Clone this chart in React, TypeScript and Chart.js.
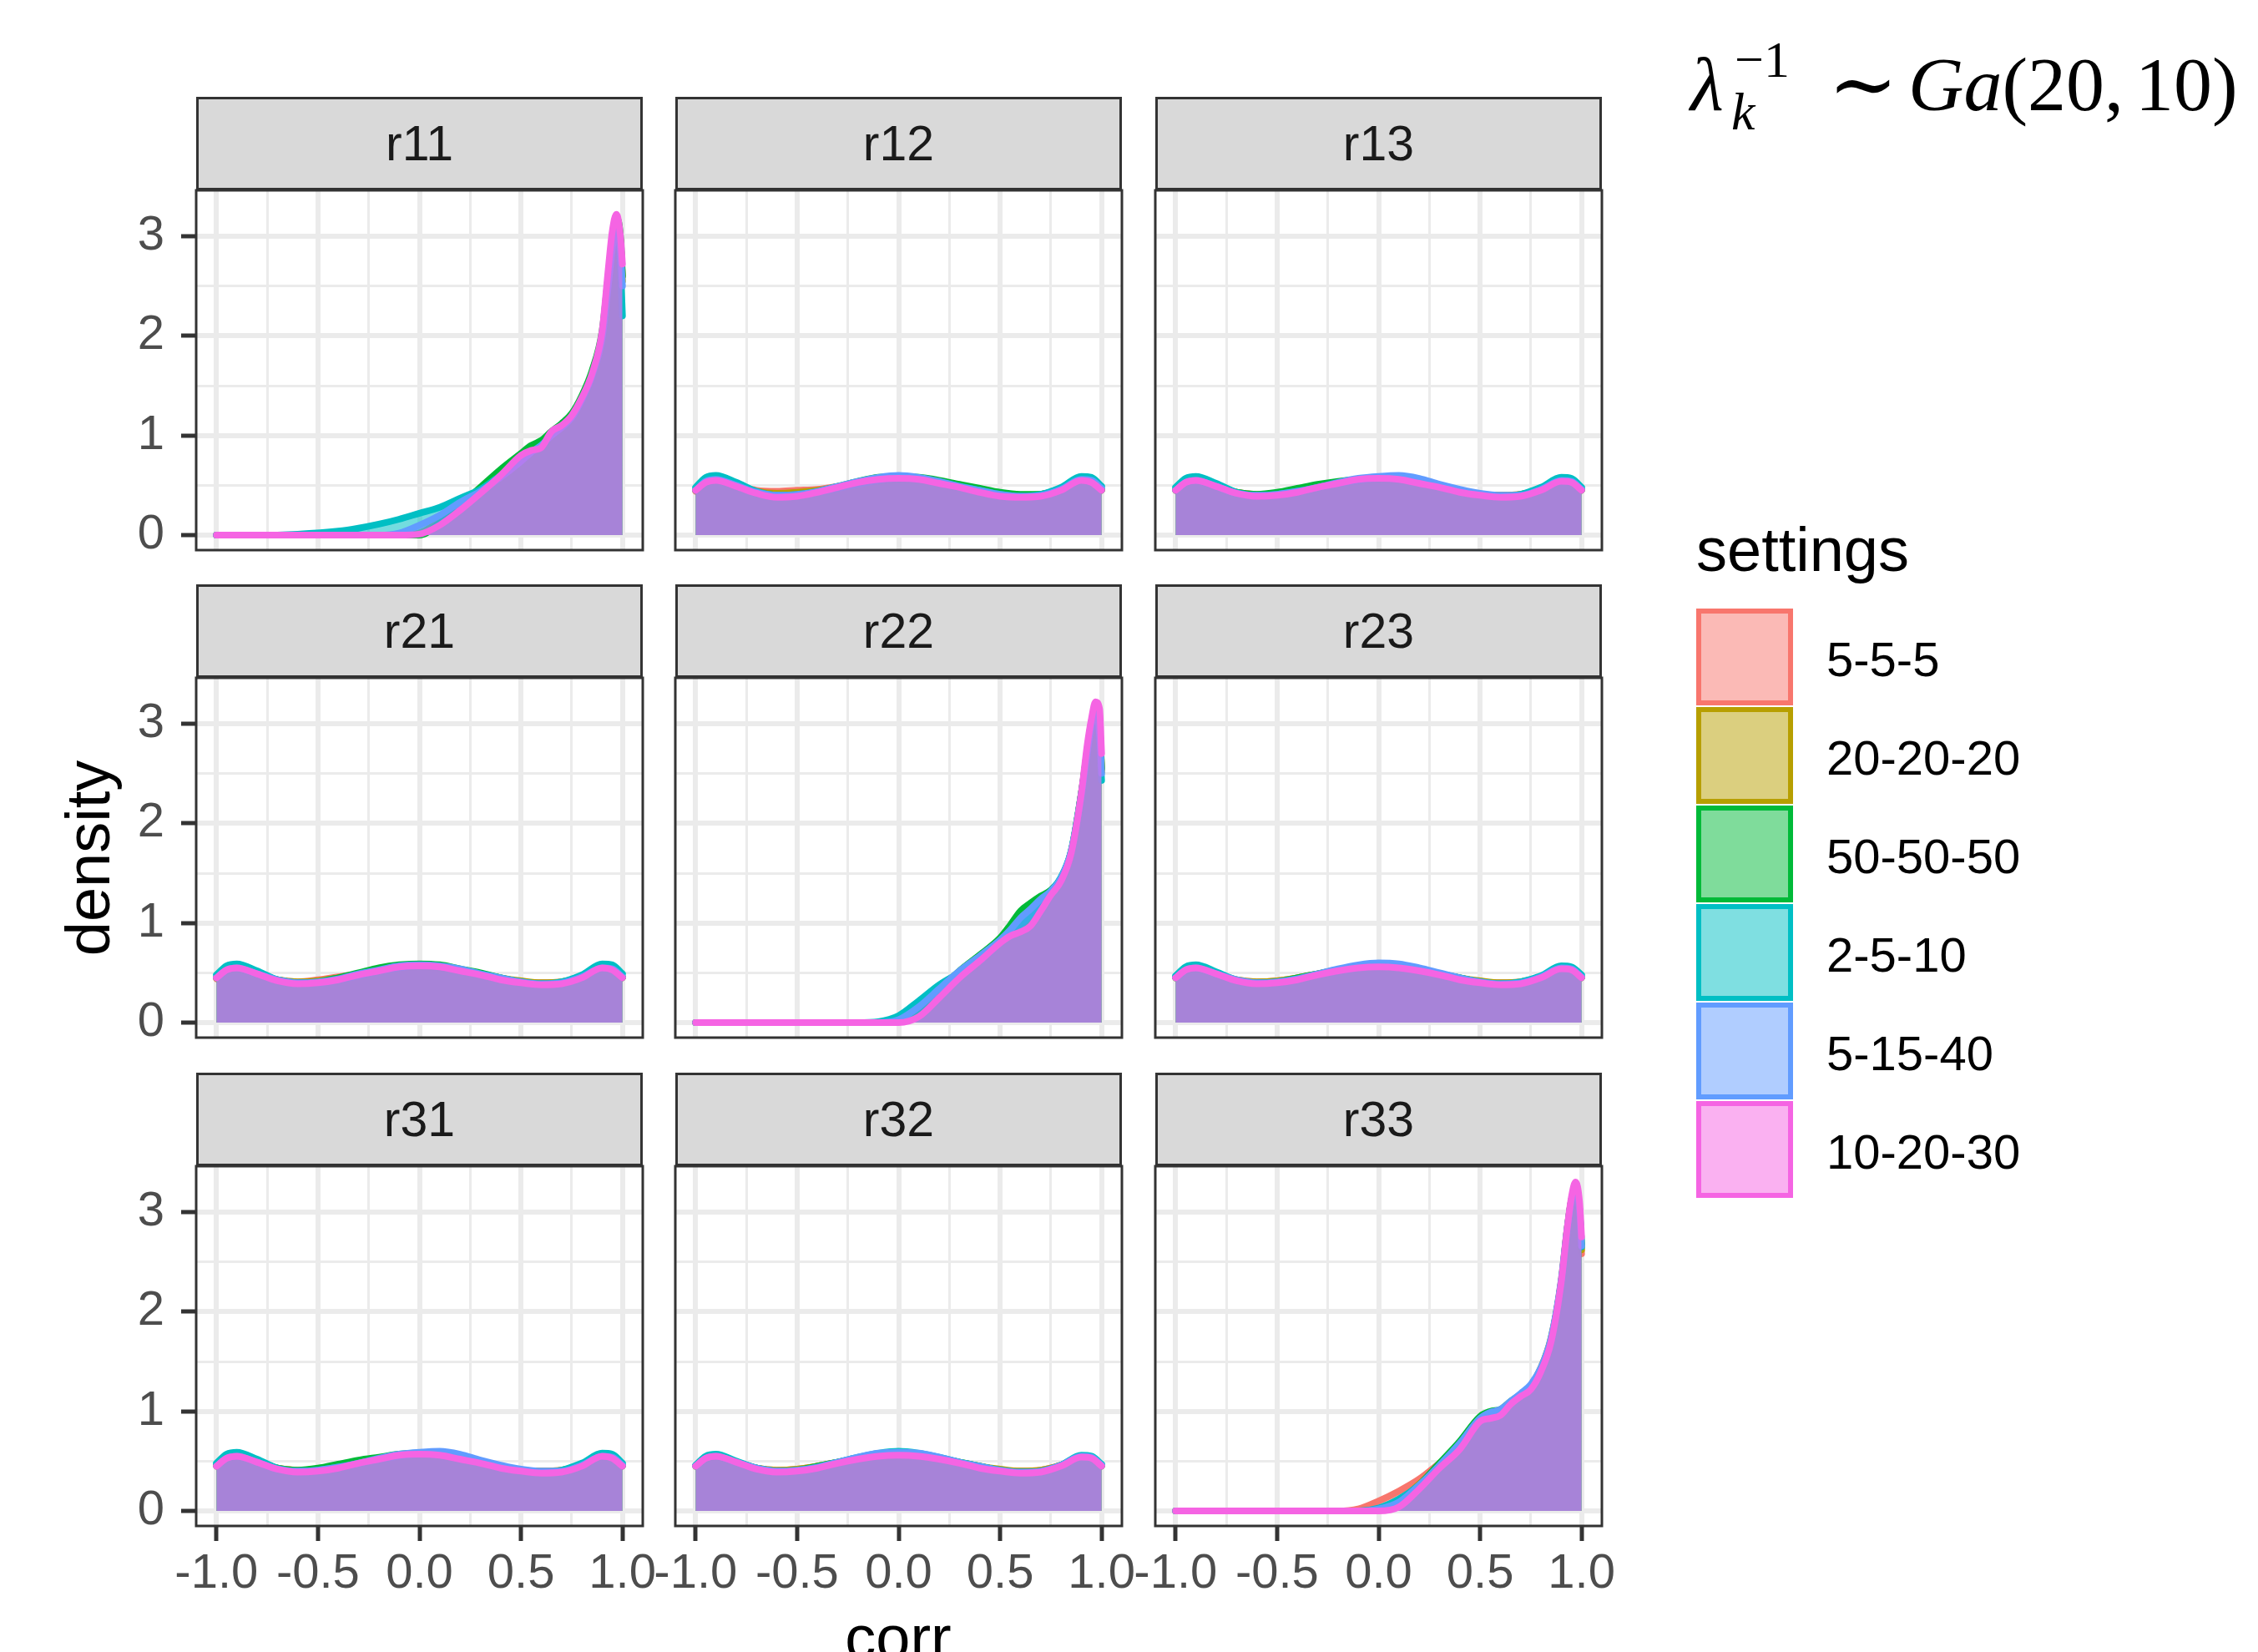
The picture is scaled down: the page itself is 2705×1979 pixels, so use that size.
import React, { useEffect, useRef } from "react";
import { Chart, registerables } from "chart.js";

Chart.register(...registerables);

// ---------- data ----------
const SETTINGS = ["5-5-5", "20-20-20", "50-50-50", "2-5-10", "5-15-40", "10-20-30"];
const LINE_COLORS = ["#F8766D", "#B79F00", "#00BA38", "#00BFC4", "#619CFF", "#F564E3"];
const FILL_RGB = ["248,118,109", "183,159,0", "0,186,56", "0,191,196", "97,156,255", "245,100,227"];
const PANEL_ALPHA = 0.55;
const KEY_ALPHA = 0.5;

const X_GRID = [-1, -0.75, -0.5, -0.25, 0, 0.25, 0.5, 0.75, 1];
const X_MAJOR = [-1, -0.5, 0, 0.5, 1];
const X_LABELS = ["-1.0", "-0.5", "0.0", "0.5", "1.0"];
const Y_GRID = [0, 0.5, 1, 1.5, 2, 2.5, 3];
const Y_MAJOR = [0, 1, 2, 3];
const Y_LABELS = ["0", "1", "2", "3"];
const X_RANGE = [-1.1, 1.1];
const Y_RANGE = [-0.15, 3.46];

// x positions of the density estimates
const X_DIAG = [-1, -0.8, -0.6, -0.4, -0.3, -0.2, -0.1, 0, 0.1, 0.2, 0.3, 0.4, 0.5, 0.55, 0.6, 0.65, 0.7, 0.75, 0.8, 0.85, 0.9, 0.93, 0.95, 0.97, 0.99, 1.0];
const X_FLAT = [-1, -0.95, -0.9, -0.8, -0.7, -0.6, -0.5, -0.4, -0.3, -0.2, -0.1, 0, 0.1, 0.2, 0.3, 0.4, 0.5, 0.6, 0.7, 0.8, 0.9, 0.95, 1];

// series order: 5-5-5, 20-20-20, 50-50-50, 2-5-10, 5-15-40, 10-20-30
const r11 = [
  [0, 0, 0, 0, 0, 0, 0, 0.02, 0.14, 0.28, 0.45, 0.62, 0.78, 0.86, 0.92, 1.0, 1.1, 1.2, 1.38, 1.62, 2.0, 2.55, 2.92, 3.15, 2.95, 2.6],
  [0, 0, 0, 0, 0, 0, 0, 0.02, 0.13, 0.27, 0.44, 0.62, 0.8, 0.88, 0.93, 1.01, 1.1, 1.21, 1.38, 1.62, 2.0, 2.55, 2.93, 3.16, 2.97, 2.55],
  [0, 0, 0, 0, 0, 0, 0, 0, 0.12, 0.3, 0.48, 0.66, 0.82, 0.9, 0.95, 1.04, 1.12, 1.22, 1.4, 1.65, 2.05, 2.6, 2.95, 3.18, 3.0, 2.6],
  [0, 0, 0.01, 0.04, 0.07, 0.11, 0.16, 0.22, 0.28, 0.37, 0.46, 0.6, 0.74, 0.83, 0.9, 1.0, 1.08, 1.18, 1.36, 1.6, 2.0, 2.5, 2.85, 3.05, 2.7, 2.2],
  [0, 0, 0, 0, 0, 0, 0.02, 0.1, 0.2, 0.33, 0.44, 0.58, 0.74, 0.83, 0.9, 1.0, 1.08, 1.18, 1.36, 1.6, 1.98, 2.5, 2.88, 3.1, 2.85, 2.5],
  [0, 0, 0, 0, 0, 0, 0, 0.01, 0.1, 0.25, 0.42, 0.6, 0.8, 0.85, 0.88, 1.04, 1.1, 1.2, 1.38, 1.62, 2.05, 2.67, 3.05, 3.22, 3.0, 2.72],
];
const r22 = [
  [0, 0, 0, 0, 0, 0, 0, 0.03, 0.15, 0.32, 0.5, 0.66, 0.83, 0.92, 1.02, 1.1, 1.2, 1.3, 1.44, 1.7, 2.3, 2.72, 3.0, 3.12, 2.95, 2.55],
  [0, 0, 0, 0, 0, 0, 0, 0.02, 0.14, 0.31, 0.5, 0.66, 0.84, 0.94, 1.04, 1.12, 1.22, 1.31, 1.45, 1.71, 2.29, 2.73, 3.01, 3.14, 2.96, 2.52],
  [0, 0, 0, 0, 0, 0, 0, 0.02, 0.14, 0.33, 0.52, 0.68, 0.85, 0.98, 1.12, 1.2, 1.27, 1.33, 1.45, 1.72, 2.3, 2.75, 3.02, 3.15, 3.0, 2.55],
  [0, 0, 0, 0, 0, 0, 0.01, 0.07, 0.22, 0.38, 0.5, 0.62, 0.8, 0.9, 0.98, 1.08, 1.2, 1.32, 1.46, 1.72, 2.3, 2.7, 2.95, 3.05, 2.8, 2.43],
  [0, 0, 0, 0, 0, 0, 0, 0.03, 0.16, 0.34, 0.52, 0.67, 0.83, 0.93, 1.05, 1.14, 1.24, 1.32, 1.45, 1.72, 2.28, 2.72, 3.0, 3.1, 2.9, 2.5],
  [0, 0, 0, 0, 0, 0, 0, 0, 0.06, 0.25, 0.45, 0.62, 0.8, 0.87, 0.91, 0.97, 1.12, 1.28, 1.42, 1.7, 2.3, 2.8, 3.05, 3.22, 3.15, 2.7],
];
const r33 = [
  [0, 0, 0, 0, 0, 0, 0.02, 0.1, 0.2, 0.32, 0.48, 0.64, 0.9, 0.95, 1.0, 1.08, 1.17, 1.25, 1.42, 1.72, 2.32, 2.85, 3.12, 3.22, 2.95, 2.58],
  [0, 0, 0, 0, 0, 0, 0, 0.02, 0.1, 0.27, 0.46, 0.66, 0.92, 0.97, 1.0, 1.08, 1.17, 1.26, 1.44, 1.74, 2.3, 2.84, 3.12, 3.24, 3.0, 2.62],
  [0, 0, 0, 0, 0, 0, 0, 0.01, 0.08, 0.26, 0.48, 0.7, 0.95, 1.0, 1.02, 1.1, 1.17, 1.25, 1.42, 1.72, 2.3, 2.84, 3.12, 3.25, 3.02, 2.68],
  [0, 0, 0, 0, 0, 0, 0, 0.03, 0.12, 0.26, 0.45, 0.64, 0.9, 0.96, 1.0, 1.08, 1.17, 1.25, 1.42, 1.72, 2.3, 2.82, 3.1, 3.22, 3.0, 2.65],
  [0, 0, 0, 0, 0, 0, 0, 0.02, 0.09, 0.26, 0.46, 0.68, 0.93, 0.99, 1.02, 1.1, 1.18, 1.27, 1.44, 1.74, 2.32, 2.85, 3.12, 3.24, 3.02, 2.66],
  [0, 0, 0, 0, 0, 0, 0, 0, 0.04, 0.22, 0.43, 0.62, 0.9, 0.93, 0.96, 1.07, 1.15, 1.22, 1.4, 1.7, 2.3, 2.85, 3.15, 3.3, 3.1, 2.75],
];
const r12 = [
  [0.44, 0.52, 0.54, 0.5, 0.45, 0.44, 0.45, 0.46, 0.49, 0.52, 0.55, 0.56, 0.55, 0.52, 0.48, 0.44, 0.41, 0.4, 0.41, 0.46, 0.54, 0.53, 0.45],
  [0.45, 0.53, 0.55, 0.5, 0.44, 0.42, 0.43, 0.45, 0.48, 0.52, 0.55, 0.57, 0.56, 0.53, 0.49, 0.45, 0.42, 0.4, 0.41, 0.46, 0.55, 0.53, 0.46],
  [0.45, 0.53, 0.55, 0.49, 0.43, 0.4, 0.41, 0.44, 0.49, 0.54, 0.58, 0.59, 0.58, 0.55, 0.51, 0.47, 0.43, 0.41, 0.41, 0.46, 0.55, 0.53, 0.45],
  [0.48, 0.58, 0.6, 0.53, 0.44, 0.4, 0.4, 0.43, 0.47, 0.51, 0.55, 0.57, 0.56, 0.53, 0.49, 0.45, 0.41, 0.39, 0.41, 0.48, 0.59, 0.58, 0.49],
  [0.45, 0.54, 0.56, 0.5, 0.43, 0.4, 0.41, 0.44, 0.49, 0.54, 0.58, 0.6, 0.58, 0.54, 0.49, 0.45, 0.41, 0.39, 0.4, 0.46, 0.56, 0.55, 0.47],
  [0.45, 0.53, 0.55, 0.49, 0.42, 0.38, 0.39, 0.43, 0.48, 0.53, 0.56, 0.57, 0.56, 0.52, 0.48, 0.43, 0.39, 0.38, 0.39, 0.45, 0.55, 0.53, 0.45],
];
const r13 = [
  [0.45, 0.52, 0.54, 0.49, 0.43, 0.41, 0.42, 0.45, 0.49, 0.52, 0.55, 0.56, 0.55, 0.52, 0.48, 0.44, 0.41, 0.4, 0.41, 0.46, 0.54, 0.53, 0.45],
  [0.45, 0.53, 0.55, 0.5, 0.43, 0.41, 0.42, 0.45, 0.49, 0.53, 0.56, 0.57, 0.56, 0.53, 0.49, 0.45, 0.41, 0.4, 0.41, 0.46, 0.55, 0.53, 0.46],
  [0.45, 0.53, 0.55, 0.49, 0.43, 0.41, 0.43, 0.47, 0.51, 0.54, 0.56, 0.57, 0.56, 0.53, 0.49, 0.45, 0.41, 0.39, 0.4, 0.46, 0.55, 0.53, 0.45],
  [0.48, 0.57, 0.59, 0.52, 0.43, 0.4, 0.41, 0.44, 0.48, 0.52, 0.55, 0.57, 0.56, 0.53, 0.49, 0.45, 0.41, 0.39, 0.41, 0.48, 0.58, 0.57, 0.48],
  [0.45, 0.53, 0.55, 0.49, 0.42, 0.4, 0.41, 0.44, 0.48, 0.53, 0.57, 0.59, 0.6, 0.57, 0.51, 0.46, 0.42, 0.4, 0.4, 0.46, 0.55, 0.54, 0.46],
  [0.45, 0.53, 0.55, 0.49, 0.42, 0.39, 0.4, 0.43, 0.48, 0.52, 0.56, 0.57, 0.56, 0.52, 0.48, 0.43, 0.4, 0.38, 0.39, 0.45, 0.54, 0.53, 0.45],
];
const r21 = [
  [0.44, 0.52, 0.54, 0.49, 0.43, 0.41, 0.43, 0.46, 0.49, 0.52, 0.55, 0.56, 0.55, 0.52, 0.48, 0.44, 0.41, 0.4, 0.41, 0.46, 0.54, 0.53, 0.45],
  [0.45, 0.52, 0.54, 0.49, 0.43, 0.41, 0.42, 0.45, 0.49, 0.53, 0.56, 0.57, 0.56, 0.53, 0.49, 0.45, 0.42, 0.4, 0.41, 0.46, 0.55, 0.53, 0.46],
  [0.45, 0.53, 0.55, 0.49, 0.43, 0.4, 0.41, 0.45, 0.5, 0.55, 0.58, 0.59, 0.58, 0.54, 0.5, 0.45, 0.41, 0.39, 0.4, 0.46, 0.55, 0.53, 0.45],
  [0.48, 0.57, 0.59, 0.52, 0.43, 0.4, 0.4, 0.43, 0.47, 0.52, 0.55, 0.57, 0.56, 0.53, 0.49, 0.45, 0.41, 0.39, 0.41, 0.48, 0.59, 0.58, 0.49],
  [0.45, 0.53, 0.55, 0.49, 0.43, 0.4, 0.41, 0.44, 0.49, 0.53, 0.57, 0.58, 0.57, 0.54, 0.49, 0.45, 0.41, 0.39, 0.4, 0.46, 0.55, 0.54, 0.46],
  [0.45, 0.53, 0.55, 0.49, 0.42, 0.39, 0.4, 0.43, 0.48, 0.52, 0.56, 0.57, 0.56, 0.52, 0.48, 0.43, 0.4, 0.38, 0.39, 0.45, 0.55, 0.53, 0.45],
];
const r23 = [
  [0.45, 0.53, 0.55, 0.49, 0.43, 0.41, 0.42, 0.45, 0.49, 0.52, 0.55, 0.56, 0.55, 0.52, 0.48, 0.44, 0.41, 0.4, 0.41, 0.46, 0.54, 0.53, 0.45],
  [0.45, 0.52, 0.54, 0.49, 0.43, 0.41, 0.42, 0.45, 0.49, 0.53, 0.56, 0.57, 0.56, 0.53, 0.49, 0.45, 0.42, 0.4, 0.41, 0.46, 0.55, 0.53, 0.46],
  [0.45, 0.53, 0.55, 0.49, 0.42, 0.4, 0.41, 0.45, 0.49, 0.53, 0.56, 0.57, 0.56, 0.53, 0.49, 0.45, 0.41, 0.39, 0.4, 0.46, 0.55, 0.53, 0.45],
  [0.47, 0.56, 0.58, 0.51, 0.43, 0.4, 0.41, 0.44, 0.48, 0.52, 0.55, 0.57, 0.56, 0.53, 0.49, 0.45, 0.41, 0.39, 0.41, 0.47, 0.57, 0.56, 0.48],
  [0.45, 0.53, 0.55, 0.49, 0.43, 0.4, 0.41, 0.44, 0.49, 0.54, 0.58, 0.6, 0.59, 0.55, 0.5, 0.45, 0.41, 0.39, 0.4, 0.46, 0.55, 0.54, 0.46],
  [0.45, 0.53, 0.55, 0.49, 0.42, 0.39, 0.4, 0.43, 0.48, 0.52, 0.55, 0.56, 0.55, 0.52, 0.48, 0.43, 0.4, 0.38, 0.39, 0.45, 0.54, 0.53, 0.45],
];
const r31 = [
  [0.45, 0.52, 0.54, 0.49, 0.43, 0.41, 0.42, 0.45, 0.49, 0.52, 0.55, 0.56, 0.55, 0.52, 0.48, 0.44, 0.41, 0.4, 0.41, 0.46, 0.54, 0.53, 0.45],
  [0.45, 0.53, 0.55, 0.5, 0.43, 0.41, 0.42, 0.45, 0.49, 0.53, 0.56, 0.57, 0.56, 0.53, 0.49, 0.45, 0.41, 0.4, 0.41, 0.46, 0.55, 0.53, 0.46],
  [0.46, 0.54, 0.56, 0.5, 0.43, 0.41, 0.43, 0.47, 0.51, 0.54, 0.57, 0.58, 0.57, 0.53, 0.49, 0.45, 0.41, 0.39, 0.4, 0.46, 0.55, 0.53, 0.45],
  [0.48, 0.57, 0.59, 0.52, 0.43, 0.4, 0.41, 0.44, 0.48, 0.52, 0.55, 0.57, 0.56, 0.53, 0.49, 0.45, 0.41, 0.39, 0.41, 0.48, 0.58, 0.57, 0.48],
  [0.45, 0.53, 0.55, 0.49, 0.42, 0.4, 0.41, 0.44, 0.48, 0.53, 0.57, 0.59, 0.6, 0.57, 0.51, 0.46, 0.42, 0.4, 0.4, 0.46, 0.55, 0.54, 0.46],
  [0.45, 0.53, 0.55, 0.49, 0.42, 0.39, 0.4, 0.43, 0.48, 0.52, 0.56, 0.57, 0.56, 0.52, 0.48, 0.43, 0.4, 0.38, 0.39, 0.45, 0.55, 0.53, 0.45],
];
const r32 = [
  [0.45, 0.53, 0.55, 0.49, 0.43, 0.41, 0.42, 0.45, 0.49, 0.52, 0.55, 0.56, 0.55, 0.52, 0.48, 0.44, 0.41, 0.4, 0.41, 0.46, 0.54, 0.53, 0.45],
  [0.45, 0.52, 0.54, 0.49, 0.43, 0.41, 0.42, 0.45, 0.49, 0.53, 0.56, 0.57, 0.56, 0.53, 0.49, 0.45, 0.42, 0.4, 0.41, 0.46, 0.55, 0.53, 0.46],
  [0.45, 0.53, 0.55, 0.49, 0.43, 0.4, 0.41, 0.45, 0.49, 0.53, 0.56, 0.57, 0.56, 0.53, 0.49, 0.45, 0.41, 0.39, 0.4, 0.46, 0.55, 0.53, 0.45],
  [0.46, 0.55, 0.57, 0.5, 0.43, 0.4, 0.41, 0.44, 0.49, 0.54, 0.58, 0.6, 0.58, 0.54, 0.49, 0.45, 0.41, 0.39, 0.4, 0.46, 0.56, 0.55, 0.47],
  [0.45, 0.53, 0.55, 0.49, 0.43, 0.4, 0.41, 0.44, 0.49, 0.54, 0.58, 0.59, 0.58, 0.54, 0.49, 0.45, 0.41, 0.39, 0.4, 0.46, 0.55, 0.54, 0.46],
  [0.45, 0.53, 0.55, 0.49, 0.42, 0.39, 0.4, 0.43, 0.48, 0.52, 0.55, 0.56, 0.55, 0.52, 0.48, 0.43, 0.4, 0.38, 0.39, 0.45, 0.54, 0.53, 0.45],
];

const PANELS = [
  { name: "r11", xs: X_DIAG, series: r11 },
  { name: "r12", xs: X_FLAT, series: r12 },
  { name: "r13", xs: X_FLAT, series: r13 },
  { name: "r21", xs: X_FLAT, series: r21 },
  { name: "r22", xs: X_DIAG, series: r22 },
  { name: "r23", xs: X_FLAT, series: r23 },
  { name: "r31", xs: X_FLAT, series: r31 },
  { name: "r32", xs: X_FLAT, series: r32 },
  { name: "r33", xs: X_DIAG, series: r33 },
];

// ---------- layout ----------
const W = 2705;
const H = 1979;
const COL_LEFT = [235, 809, 1384];
const ROW_TOP = [228, 812, 1397];
const PW = 535;
const PH = 431;
const STRIP_H = 112;
const YW = 130;
const XH = 110;
const TP = 5;
const RP = 60;

const SANS = '"Liberation Sans", Arial, Helvetica, sans-serif';
const SERIF = '"Liberation Serif", "Times New Roman", "DejaVu Serif", serif';
const TICK_FONT = { family: SANS, size: 58 };

const rgba = (i: number, a: number) => `rgba(${FILL_RGB[i]},${a})`;

const panelBorder = {
  id: "panelBorder",
  afterDraw(chart: any) {
    const { ctx, chartArea: a } = chart;
    ctx.save();
    ctx.strokeStyle = "#333333";
    ctx.lineWidth = 3;
    ctx.strokeRect(a.left, a.top, a.right - a.left, a.bottom - a.top);
    ctx.restore();
  },
};

function Facet({ idx }: { idx: number }) {
  const ref = useRef<HTMLCanvasElement>(null);
  const row = Math.floor(idx / 3);
  const col = idx % 3;
  const p = PANELS[idx];
  useEffect(() => {
    const showY = col === 0;
    const showX = row === 2;
    const chart = new Chart(ref.current as HTMLCanvasElement, {
      type: "line",
      data: {
        datasets: p.series.map((vals: number[], i: number) => ({
          label: SETTINGS[i],
          data: p.xs.map((x: number, j: number) => ({ x, y: vals[j] })),
          borderColor: LINE_COLORS[i],
          backgroundColor: rgba(i, PANEL_ALPHA),
          borderWidth: 8,
          fill: "origin",
          pointRadius: 0,
          cubicInterpolationMode: "monotone",
          borderCapStyle: "round",
          borderJoinStyle: "round",
          order: p.series.length - 1 - i,
        })),
      },
      options: {
        animation: false,
        responsive: false,
        events: [],
        layout: { padding: { left: 0, top: TP, right: RP, bottom: 0 } },
        plugins: { legend: { display: false }, tooltip: { enabled: false }, title: { display: false } },
        scales: {
          x: {
            type: "linear",
            min: X_RANGE[0],
            max: X_RANGE[1],
            afterBuildTicks: (s: any) => {
              s.ticks = X_GRID.map((v) => ({ value: v }));
            },
            afterFit: (s: any) => {
              s.height = XH;
              s.paddingLeft = 0;
              s.paddingRight = 0;
              s.paddingTop = 0;
              s.paddingBottom = 0;
            },
            border: { display: false },
            grid: {
              color: "#EBEBEB",
              lineWidth: (c: any) => (X_MAJOR.includes(c.tick?.value) ? 6 : 3),
              drawTicks: showX,
              tickLength: 18,
              tickWidth: 5,
              tickColor: (c: any) => (X_MAJOR.includes(c.tick?.value) ? "#333333" : "rgba(0,0,0,0)"),
            },
            ticks: {
              display: showX,
              autoSkip: false,
              maxRotation: 0,
              minRotation: 0,
              padding: 5,
              color: "#4D4D4D",
              font: TICK_FONT,
              callback: (v: any) => {
                const k = X_MAJOR.indexOf(Number(v));
                return k >= 0 ? X_LABELS[k] : "";
              },
            },
          },
          y: {
            type: "linear",
            min: Y_RANGE[0],
            max: Y_RANGE[1],
            afterBuildTicks: (s: any) => {
              s.ticks = Y_GRID.map((v) => ({ value: v }));
            },
            afterFit: (s: any) => {
              s.width = YW;
              s.paddingLeft = 0;
              s.paddingRight = 0;
              s.paddingTop = 0;
              s.paddingBottom = 0;
            },
            border: { display: false },
            grid: {
              color: "#EBEBEB",
              lineWidth: (c: any) => (Y_MAJOR.includes(c.tick?.value) ? 6 : 3),
              drawTicks: showY,
              tickLength: 18,
              tickWidth: 5,
              tickColor: (c: any) => (Y_MAJOR.includes(c.tick?.value) ? "#333333" : "rgba(0,0,0,0)"),
            },
            ticks: {
              display: showY,
              autoSkip: false,
              padding: 20,
              color: "#4D4D4D",
              font: TICK_FONT,
              callback: (v: any) => {
                const k = Y_MAJOR.indexOf(Number(v));
                return k >= 0 ? Y_LABELS[k] : "";
              },
            },
          },
        },
      } as any,
      plugins: [panelBorder],
    });
    return () => chart.destroy();
  }, []);
  const cw = YW + PW + RP;
  const ch = TP + PH + XH;
  return (
    <canvas
      ref={ref}
      width={cw}
      height={ch}
      style={{ position: "absolute", left: COL_LEFT[col] - YW, top: ROW_TOP[row] - TP, width: cw, height: ch }}
    />
  );
}

function Txt({ x, base, size, family = SANS, color = "#000", children, italic = false }: any) {
  const asc = family === SERIF ? 0.8375 : 0.8465;
  return (
    <div
      style={{
        position: "absolute",
        left: x,
        top: base - asc * size,
        fontSize: size,
        lineHeight: 1,
        fontFamily: family,
        color,
        whiteSpace: "nowrap",
        fontStyle: italic ? "italic" : "normal",
      }}
    >
      {children}
    </div>
  );
}

export default function App() {
  return (
    <div style={{ position: "fixed", left: 0, top: 0, width: W, height: H, overflow: "hidden", background: "#FFFFFF" }}>
      {PANELS.map((p, i) => (
        <div
          key={"s" + p.name}
          style={{
            position: "absolute",
            left: COL_LEFT[i % 3],
            top: ROW_TOP[Math.floor(i / 3)] - STRIP_H,
            width: PW,
            height: STRIP_H,
            boxSizing: "border-box",
            border: "3px solid #333333",
            background: "#D9D9D9",
            display: "flex",
            alignItems: "center",
            justifyContent: "center",
            fontFamily: SANS,
            fontSize: 59,
            color: "#1A1A1A",
          }}
        >
          {p.name}
        </div>
      ))}
      {PANELS.map((p, i) => (
        <Facet key={p.name} idx={i} />
      ))}

      {/* axis titles */}
      <div
        style={{
          position: "absolute",
          left: 106 - 200,
          top: 1028 - 37,
          width: 400,
          height: 74,
          lineHeight: 1,
          fontSize: 74,
          fontFamily: SANS,
          textAlign: "center",
          transform: "rotate(-90deg)",
          transformOrigin: "50% 50%",
          color: "#000",
        }}
      >
        density
      </div>
      <div
        style={{
          position: "absolute",
          left: 1076 - 200,
          top: 1988 - 0.8465 * 74,
          width: 400,
          lineHeight: 1,
          fontSize: 74,
          fontFamily: SANS,
          textAlign: "center",
          color: "#000",
        }}
      >
        corr
      </div>

      {/* legend */}
      <Txt x={2032} base={685} size={74}>settings</Txt>
      {SETTINGS.map((s, i) => (
        <React.Fragment key={s}>
          <div
            style={{
              position: "absolute",
              left: 2032,
              top: 729 + i * 118,
              width: 116,
              height: 116,
              boxSizing: "border-box",
              border: `6px solid ${LINE_COLORS[i]}`,
              background: rgba(i, KEY_ALPHA),
            }}
          />
          <Txt x={2188} base={810 + i * 118} size={58}>{s}</Txt>
        </React.Fragment>
      ))}

      {/* annotation */}
      <Txt x={2025} base={132} size={92} family={SERIF} italic>λ</Txt>
      <Txt x={2078} base={92} size={62} family={SERIF}>−1</Txt>
      <Txt x={2074} base={156} size={64} family={SERIF} italic>k</Txt>
      <Txt x={2190} base={136} size={100} family={SERIF}>∼</Txt>
      <Txt x={2286} base={132} size={92} family={SERIF}>
        <i>Ga</i>(20,<span style={{ marginLeft: 14 }}>10)</span>
      </Txt>
    </div>
  );
}
